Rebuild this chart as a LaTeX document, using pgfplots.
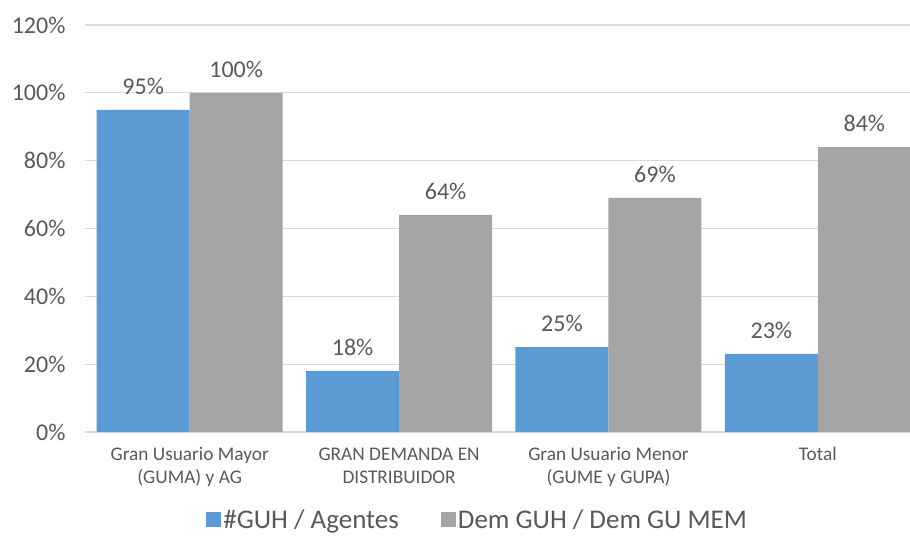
\documentclass[border=0pt]{standalone}
\usepackage{fontspec}
\setmainfont{Carlito}
\usepackage{pgfplots}
\pgfplotsset{compat=1.18}
\definecolor{serA}{HTML}{5B9BD5}
\definecolor{serB}{HTML}{A5A5A5}
\definecolor{gridc}{HTML}{D9D9D9}
\definecolor{txt}{HTML}{595959}

\begin{document}
\begin{tikzpicture}
\useasboundingbox (0,0) rectangle (910pt,542pt);
\begin{axis}[
  at={(85pt,110pt)},anchor=south west,
  scale only axis,width=825pt,height=407pt,
  ybar=0pt,bar width=93pt,
  xmin=-0.5,xmax=3.44,ymin=0,ymax=120,
  xtick={0,1,2,3},
  xticklabels={Gran Usuario Mayor\\(GUMA) y AG,GRAN DEMANDA EN\\DISTRIBUIDOR,Gran Usuario Menor\\(GUME y GUPA),Total},
  ytick={0,20,40,60,80,100,120},
  yticklabels={0\%,20\%,40\%,60\%,80\%,100\%,120\%},
  major tick length=0pt,
  ymajorgrids,grid style={gridc,line width=1.2pt},
  axis lines=left,axis line style={-},
  y axis line style={draw=none},
  x axis line style={gridc,line width=1.5pt},
  yticklabel style={font=\fontsize{24}{28}\selectfont,text=txt,xshift=-16pt},
  xticklabel style={font=\fontsize{19.3}{23}\selectfont,text=txt,align=center,yshift=-12pt},
  nodes near coords={\pgfmathprintnumber{\pgfplotspointmeta}\%},
  /pgf/number format/assume math mode=true,
  nodes near coords style={font=\fontsize{24}{28}\selectfont,text=txt,anchor=south,yshift=12pt},
  legend columns=2,
  legend style={at={(0.476,-0.216)},anchor=center,draw=none,fill=none,
    font=\fontsize{27}{31}\selectfont,text=txt,
    /tikz/every even column/.append style={column sep=40pt}},
  legend image code/.code={\fill[#1] (0pt,-7pt) rectangle (15pt,8pt);},
]
\addplot[fill=serA,draw=none] coordinates {(0,95)(1,18)(2,25)(3,23)};
\addlegendentry{\#GUH / Agentes}
\addplot[fill=serB,draw=none] coordinates {(0,100)(1,64)(2,69)(3,84)};
\addlegendentry{Dem GUH / Dem GU MEM}
\end{axis}
\end{tikzpicture}
\end{document}
